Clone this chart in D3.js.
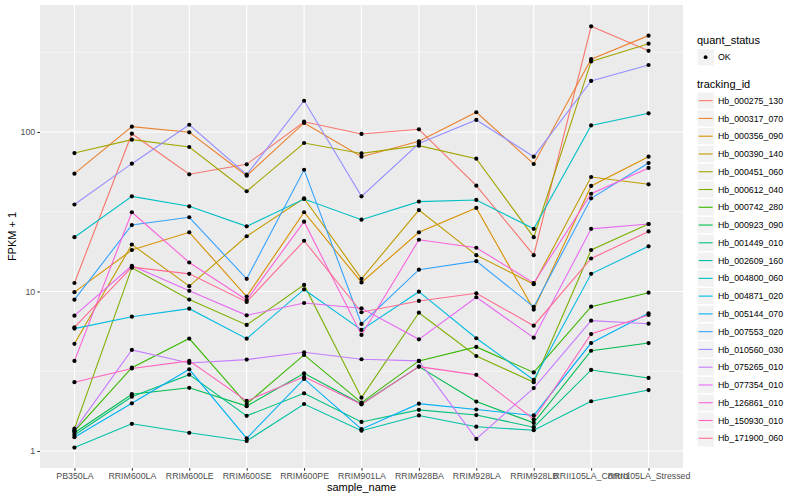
<!DOCTYPE html>
<html>
<head>
<meta charset="utf-8">
<script src="https://cdn.jsdelivr.net/npm/d3@7"></script>
<style>
  body { margin: 0; background: #fff; }
  text { font-family: "Liberation Sans", Arial, sans-serif; }
</style>
</head>
<body>
<div class="container"></div>
<script>
// x categories
const samples = ["PB350LA", "RRIM600LA", "RRIM600LE", "RRIM600SE", "RRIM600PE", "RRIM901LA",
  "RRIM928BA", "RRIM928LA", "RRIM928LB", "RRII105LA_Control", "RRII105LA_Stressed"];

const trackingIds = ["Hb_000275_130", "Hb_000317_070", "Hb_000356_090", "Hb_000390_140", "Hb_000451_060",
  "Hb_000612_040", "Hb_000742_280", "Hb_000923_090", "Hb_001449_010", "Hb_002609_160",
  "Hb_004800_060", "Hb_004871_020", "Hb_005144_070", "Hb_007553_020", "Hb_010560_030",
  "Hb_075265_010", "Hb_077354_010", "Hb_126861_010", "Hb_150930_010", "Hb_171900_060"];

// FPKM + 1, one value per sample
const hb_000275_130 = [11.3, 97.6, 54.3, 62.7, 116, 97.2, 104, 46.1, 16.9, 460, 323];
const hb_000317_070 = [54.8, 108, 99.6, 53.2, 114, 70, 87.4, 133, 63, 286, 402];
const hb_000356_090 = [9.9, 18.2, 23.5, 9.3, 31.4, 11.4, 23.5, 33.4, 7.7, 45.9, 70];
const hb_000390_140 = [4.7, 19.7, 10.8, 22.2, 38.4, 12.0, 32.4, 16.9, 11.1, 52.2, 47];
const hb_000451_060 = [73.8, 89.5, 80.5, 42.5, 85.3, 73.4, 82.1, 68, 21.9, 277, 358];
const hb_000612_040 = [1.38, 14.1, 8.9, 6.17, 11.0, 2.16, 7.36, 3.94, 2.70, 18.2, 26.5];
const hb_000742_280 = [1.33, 3.33, 5.07, 1.97, 4.0, 2.01, 3.67, 4.49, 3.11, 8.03, 9.83];
const hb_000923_090 = [1.30, 2.27, 2.49, 1.91, 3.07, 1.97, 3.38, 2.04, 1.50, 4.25, 4.75];
const hb_001449_010 = [1.26, 2.19, 3.01, 1.66, 2.30, 1.52, 1.81, 1.68, 1.41, 3.22, 2.87];
const hb_002609_160 = [1.05, 1.48, 1.30, 1.155, 1.97, 1.34, 1.67, 1.42, 1.35, 2.05, 2.41];
const hb_004800_060 = [21.9, 39.5, 34.2, 25.6, 38, 28.2, 36.6, 37.5, 24.7, 110, 131];
const hb_004871_020 = [5.85, 6.95, 7.8, 5.06, 10.3, 5.74, 9.97, 5.09, 2.79, 12.9, 19.2];
const hb_005144_070 = [1.22, 1.99, 3.25, 1.20, 2.83, 1.37, 1.98, 1.82, 1.67, 4.75, 7.3];
const hb_007553_020 = [8.88, 26.1, 29.2, 12.0, 58, 6.26, 13.7, 15.5, 8.0, 38.4, 63.9];
const hb_010560_030 = [35.1, 63.3, 111, 54, 157, 39.5, 84.7, 119, 70, 209, 263];
const hb_075265_010 = [1.35, 4.30, 3.56, 3.74, 4.16, 3.76, 3.67, 1.19, 2.48, 6.56, 6.28];
const hb_077354_010 = [7.05, 14.5, 10.1, 7.09, 8.47, 7.85, 5.01, 9.2, 5.13, 24.7, 26.5];
const hb_126861_010 = [3.67, 31.4, 15.2, 8.84, 27.4, 5.34, 21.1, 18.8, 11.3, 41, 59.5];
const hb_150930_010 = [2.70, 3.29, 3.67, 2.06, 2.92, 1.96, 3.38, 3.0, 1.58, 5.41, 7.12];
const hb_171900_060 = [5.96, 14.2, 12.9, 8.6, 20.8, 7.41, 8.72, 9.74, 6.10, 16.1, 23.8];

const seriesValues = [hb_000275_130, hb_000317_070, hb_000356_090, hb_000390_140, hb_000451_060,
  hb_000612_040, hb_000742_280, hb_000923_090, hb_001449_010, hb_002609_160,
  hb_004800_060, hb_004871_020, hb_005144_070, hb_007553_020, hb_010560_030,
  hb_075265_010, hb_077354_010, hb_126861_010, hb_150930_010, hb_171900_060];

const yMajor = [1, 10, 100];
const yMinor = [3.162, 31.62, 316.2];

const colors = ["#F8766D", "#EA8331", "#D89000", "#C09B00", "#A3A500", "#7CAE00", "#39B600",
  "#00BB4E", "#00BF7D", "#00C1A3", "#00BFC4", "#00BAE0", "#00B0F6", "#35A2FF", "#9590FF",
  "#C77CFF", "#E76BF3", "#FA62DB", "#FF62BC", "#FF6C91"];

let series = trackingIds.map((id, i) => ({
  id: id,
  color: colors[i],
  points: samples.map((s, j) => ({ sample: s, value: seriesValues[i][j] })),
}));

let panel = { left: 40, right: 683, top: 5, bottom: 468 };

var svg = d3.select(".container")
  .append("svg")
  .attr("width", 800)
  .attr("height", 500);

let x = d3.scalePoint().domain(samples).range([panel.left, panel.right]).padding(0.6);
let y = d3.scaleLog().domain([0.782, 625.6]).range([panel.bottom, panel.top]);

// panel background + grid
svg.append("rect")
  .attr("x", panel.left).attr("y", panel.top)
  .attr("width", panel.right - panel.left).attr("height", panel.bottom - panel.top)
  .attr("fill", "#EBEBEB");

svg.selectAll(".minor").data(yMinor).enter().append("line")
  .attr("x1", panel.left).attr("x2", panel.right)
  .attr("y1", (d) => y(d)).attr("y2", (d) => y(d))
  .attr("stroke", "#fff").attr("stroke-width", 0.55);

svg.selectAll(".major").data(yMajor).enter().append("line")
  .attr("x1", panel.left).attr("x2", panel.right)
  .attr("y1", (d) => y(d)).attr("y2", (d) => y(d))
  .attr("stroke", "#fff").attr("stroke-width", 1.1);

svg.selectAll(".vgrid").data(samples).enter().append("line")
  .attr("x1", (d) => x(d)).attr("x2", (d) => x(d))
  .attr("y1", panel.top).attr("y2", panel.bottom)
  .attr("stroke", "#fff").attr("stroke-width", 1.1);

// lines
let line = d3.line().x((d) => x(d.sample)).y((d) => y(d.value));

svg.selectAll(".series").data(series).enter().append("path")
  .attr("d", (d) => line(d.points))
  .attr("fill", "none")
  .attr("stroke", (d) => d.color)
  .attr("stroke-width", 1.1);

// points
let allPoints = series.flatMap((s) => s.points);
svg.selectAll(".pt").data(allPoints).enter().append("circle")
  .attr("cx", (d) => x(d.sample))
  .attr("cy", (d) => y(d.value))
  .attr("r", 2.1)
  .attr("fill", "#000");

// axes
let yAxis = svg.append("g")
  .attr("transform", `translate(${panel.left},0)`)
  .call(d3.axisLeft(y).tickValues(yMajor).tickFormat(d3.format("d")).tickSize(2.75).tickPadding(2));
let xAxis = svg.append("g")
  .attr("transform", `translate(0,${panel.bottom})`)
  .call(d3.axisBottom(x).tickSize(2.75).tickPadding(2));

[xAxis, yAxis].forEach((g) => {
  g.select(".domain").remove();
  g.selectAll(".tick line").attr("stroke", "#333").attr("stroke-width", 1);
  g.selectAll(".tick text").attr("fill", "#4D4D4D").style("font-size", "8.8px")
    .style("font-family", "'Liberation Sans', Arial, sans-serif");
});

// axis titles
svg.append("text")
  .attr("x", (panel.left + panel.right) / 2).attr("y", 491)
  .attr("text-anchor", "middle").style("font-size", "11px").attr("fill", "#000")
  .text("sample_name");

svg.append("text")
  .attr("transform", `translate(16,${(panel.top + panel.bottom) / 2}) rotate(-90)`)
  .attr("text-anchor", "middle").style("font-size", "11px").attr("fill", "#000")
  .text("FPKM + 1");

// legend
let lg = svg.append("g").attr("transform", "translate(697,0)");

lg.append("text").attr("x", 0).attr("y", 44).style("font-size", "11px").text("quant_status");
lg.append("rect").attr("x", 0).attr("y", 48.5).attr("width", 17.3).attr("height", 17.3)
  .attr("fill", "#F2F2F2").attr("stroke", "#fff");
lg.append("circle").attr("cx", 8.6).attr("cy", 57.2).attr("r", 1.9).attr("fill", "#000");
lg.append("text").attr("x", 21).attr("y", 60.3).style("font-size", "8.8px").text("OK");

lg.append("text").attr("x", 0).attr("y", 88).style("font-size", "11px").text("tracking_id");

let keys = lg.selectAll(".key").data(series).enter().append("g")
  .attr("transform", (d, i) => `translate(0,${92 + i * 17.77})`);

keys.append("rect").attr("width", 17.3).attr("height", 17.3)
  .attr("fill", "#F2F2F2").attr("stroke", "#fff");
keys.append("line").attr("x1", 1.7).attr("x2", 15.6).attr("y1", 8.65).attr("y2", 8.65)
  .attr("stroke", (d) => d.color).attr("stroke-width", 1.1);
keys.append("text").attr("x", 21).attr("y", 11.8).style("font-size", "8.8px")
  .text((d) => d.id);
</script>
</body>
</html>
